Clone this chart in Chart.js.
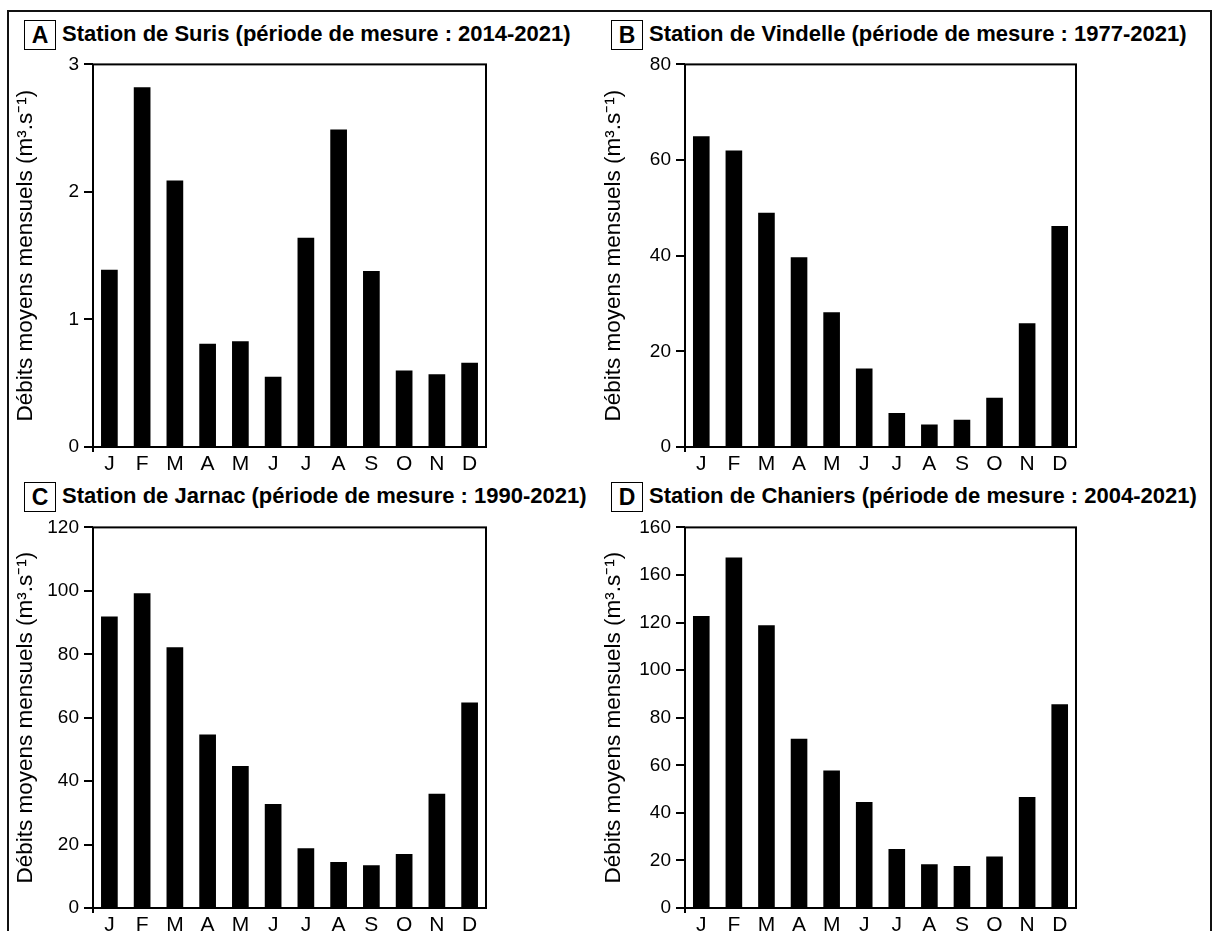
<!DOCTYPE html>
<html>
<head>
<meta charset="utf-8">
<script src="https://cdn.jsdelivr.net/npm/chart.js@4.4.1/dist/chart.umd.min.js"></script>
<style>
  body { margin: 0; background: #fff; }
  #page { position: relative; width: 1212px; height: 931px; overflow: hidden; font-family: "Liberation Sans", Arial, sans-serif; }
  #frame { position: absolute; left: 7px; top: 10px; width: 1201px; height: 960px; border: 2px solid #111; }
  canvas { position: absolute; }
  .title { position: absolute; font-weight: bold; font-size: 22px; color: #000; white-space: nowrap; line-height: 30px; }
  .tag { display: inline-block; border: 1.5px solid #000; width: 30px; height: 28px; text-align: center; font-size: 23px; line-height: 29px; margin-right: 6px; vertical-align: middle; }
</style>
</head>
<body>
<div id="page">
  <div id="frame"></div>
  <div class="title" style="left:24px; top:19px;"><span class="tag">A</span>Station de Suris (période de mesure : 2014-2021)</div>
  <div class="title" style="left:611px; top:19px;"><span class="tag">B</span>Station de Vindelle (période de mesure : 1977-2021)</div>
  <div class="title" style="left:24px; top:481px;"><span class="tag">C</span>Station de Jarnac (période de mesure : 1990-2021)</div>
  <div class="title" style="left:611px; top:481px;"><span class="tag">D</span>Station de Chaniers (période de mesure : 2004-2021)</div>
  <canvas id="chartA" width="606" height="429" style="left:0px; top:48px;"></canvas>
  <canvas id="chartB" width="606" height="429" style="left:590px; top:48px;"></canvas>
  <canvas id="chartC" width="606" height="427" style="left:0px; top:511px;"></canvas>
  <canvas id="chartD" width="606" height="427" style="left:590px; top:511px;"></canvas>
</div>
<script>
(function () {
    "use strict";

    // Months
    var months = ['J', 'F', 'M', 'A', 'M', 'J', 'J', 'A', 'S', 'O', 'N', 'D'];

    // Mean monthly discharge (m3/s)
    var surisValues = [1.39, 2.82, 2.09, 0.81, 0.83, 0.55, 1.64, 2.49, 1.38, 0.60, 0.57, 0.66];
    var vindelleValues = [65, 62, 49, 39.7, 28.2, 16.4, 7.1, 4.7, 5.7, 10.3, 25.9, 46.2];
    var jarnacValues = [91.9, 99.2, 82.2, 54.7, 44.8, 32.8, 18.8, 14.5, 13.5, 17.0, 36.0, 64.8];
    var chaniersValues = [122.8, 147.3, 118.9, 71.1, 57.8, 44.6, 24.8, 18.4, 17.7, 21.6, 46.7, 85.7];

    // Y tick labels (the Chaniers axis prints 160 twice, as in the original)
    var surisTicks = ['0', '1', '2', '3'];
    var vindelleTicks = ['0', '20', '40', '60', '80'];
    var jarnacTicks = ['0', '20', '40', '60', '80', '100', '120'];
    var chaniersTicks = ['0', '20', '40', '60', '80', '100', '120', '160', '160'];

    var yTitle = 'Débits moyens mensuels (m³.s⁻¹)';

    Chart.defaults.font.family = '"Liberation Sans", Arial, sans-serif';
    Chart.defaults.color = '#000';

    // box around the plot region, plus the little stub of the y axis below 0
    var plotBox = {
        id: 'plotBox',
        afterDraw: function (chart) {
            var a = chart.chartArea;
            var ctx = chart.ctx;
            ctx.save();
            ctx.strokeStyle = '#000';
            ctx.lineWidth = 2;
            ctx.strokeRect(a.left, a.top, a.right - a.left, a.bottom - a.top);
            ctx.beginPath();
            ctx.moveTo(a.left, a.bottom);
            ctx.lineTo(a.left, a.bottom + 5);
            ctx.stroke();
            ctx.restore();
        }
    };

    function makeChart(id, values, tickLabels, max, step, yWidth, titlePad) {
        var ctx = document.getElementById(id).getContext('2d');
        return new Chart(ctx, {
            type: 'bar',
            data: {
                labels: months,
                datasets: [{
                    data: values,
                    backgroundColor: '#000',
                    borderWidth: 0,
                    barPercentage: 0.51,
                    categoryPercentage: 1
                }]
            },
            options: {
                responsive: false,
                animation: false,
                devicePixelRatio: 1,
                layout: { padding: { top: 15, right: 120, bottom: 0, left: 0 } },
                plugins: { legend: { display: false }, tooltip: { enabled: false } },
                scales: {
                    x: {
                        grid: { display: false },
                        border: { display: false },
                        ticks: { font: { size: 21 }, padding: -3, maxRotation: 0, autoSkip: false },
                        afterFit: function (s) { s.height = 30; }
                    },
                    y: {
                        min: 0,
                        max: max,
                        grid: { drawOnChartArea: false, drawTicks: true, tickLength: 9, color: '#000', lineWidth: 2 },
                        border: { display: false },
                        ticks: {
                            stepSize: step,
                            font: { size: 19 },
                            padding: 5,
                            callback: function (v, i) { return tickLabels[i]; }
                        },
                        title: { display: true, text: yTitle, font: { size: 22.5 }, padding: { top: titlePad, bottom: 0 } },
                        afterFit: function (s) { s.width = yWidth; }
                    }
                }
            },
            plugins: [plotBox]
        });
    }

    makeChart('chartA', surisValues, surisTicks, 3, 1, 93, 12);
    makeChart('chartB', vindelleValues, vindelleTicks, 80, 20, 95, 10);
    makeChart('chartC', jarnacValues, jarnacTicks, 120, 20, 93, 12);
    makeChart('chartD', chaniersValues, chaniersTicks, 160, 20, 95, 10);
})();
</script>
</body>
</html>
